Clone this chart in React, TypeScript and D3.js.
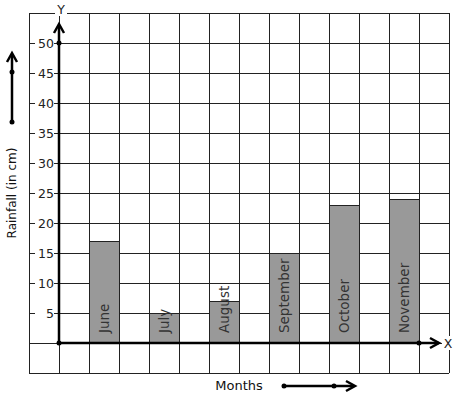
import React from "react";
import * as d3 from "d3";

const months = ["June", "July", "August", "September", "October", "November"];
const rainfall = [17, 5, 7, 15, 23, 24];
const yTickValues = [5, 10, 15, 20, 25, 30, 35, 40, 45, 50];

const W = 457, H = 399;
const FONT = "DejaVu Sans, sans-serif";

export default function App() {
  // grid columns are 30px wide, y axis sits on column line 0
  const col = d3.scaleLinear().domain([-1, 13]).range([29, 449]);
  const y = d3.scaleLinear().domain([-5, 55]).range([373, 13]);
  const x = d3.scaleBand<string>().domain(months).range([col(1), col(12)]).paddingInner(0.5).paddingOuter(0);

  const x0 = col(0), y0 = y(0);
  const gridCols = d3.range(-1, 14);
  const gridRows = d3.range(-5, 56, 5);

  return (
    <svg width={W} height={H} style={{ position: "absolute", left: 0, top: 0, background: "#fff" }} fontFamily={FONT}>
      {/* grid */}
      <g stroke="#222" strokeWidth={1} shapeRendering="crispEdges">
        {gridCols.map(c => (
          <line key={"c" + c} x1={col(c)} x2={col(c)} y1={y(55)} y2={y(-5)} />
        ))}
        {gridRows.map(r => (
          <line key={"r" + r} x1={col(-1)} x2={col(13)} y1={y(r)} y2={y(r)} />
        ))}
      </g>

      {/* bars */}
      {months.map((m, i) => (
        <g key={m}>
          <rect x={x(m)} y={y(rainfall[i])} width={x.bandwidth()} height={y0 - y(rainfall[i])}
            fill="#999" stroke="#222" strokeWidth={1} shapeRendering="crispEdges" />
          <text transform={`translate(${x(m)! + x.bandwidth() / 2},${y0 - 10}) rotate(-90)`}
            dominantBaseline="central" fontSize={13.5} fill="#333">{m}</text>
        </g>
      ))}

      {/* y tick labels */}
      {yTickValues.map(v => (
        <g key={v}>
          <rect x={35} y={y(v) - 6} width={19} height={12} fill="#fff" />
          <text x={54} y={y(v)} textAnchor="end" dominantBaseline="central" fontSize={12.5} fill="#222">{v}</text>
        </g>
      ))}

      {/* axes */}
      <g stroke="#000" strokeWidth={2.5} fill="none">
        <line x1={x0} x2={x0} y1={y0} y2={25} />
        <polyline points={`${x0 - 5},33 ${x0},24 ${x0 + 5},33`} />
        <line x1={x0} x2={439} y1={y0} y2={y0} />
        <polyline points={`430,${y0 - 5} 439,${y0} 430,${y0 + 5}`} />
      </g>
      <circle cx={x0} cy={y(50)} r={2.5} fill="#000" />
      <circle cx={x0} cy={y0} r={2.5} fill="#000" />
      <circle cx={col(12)} cy={y0} r={2.5} fill="#000" />

      {/* axis letters */}
      <rect x={55} y={3} width={12} height={13} fill="#fff" />
      <text x={61} y={14} textAnchor="middle" fontSize={12.5} fill="#222">Y</text>
      <rect x={442} y={336} width={12} height={14} fill="#fff" />
      <text x={448} y={y0} textAnchor="middle" dominantBaseline="central" fontSize={12.5} fill="#222">X</text>

      {/* y title with arrow */}
      <text transform={`translate(12,193) rotate(-90)`} textAnchor="middle" dominantBaseline="central"
        fontSize={12} fill="#111">Rainfall (in cm)</text>
      <g stroke="#000" strokeWidth={2.5} fill="none">
        <line x1={12} x2={12} y1={122} y2={54} />
        <polyline points="7,62 12,53 17,62" />
      </g>
      <circle cx={12} cy={72} r={2.5} fill="#000" />
      <circle cx={12} cy={122} r={2.5} fill="#000" />

      {/* x title with arrow */}
      <text x={239} y={385} textAnchor="middle" dominantBaseline="central" fontSize={13} fill="#111">Months</text>
      <g stroke="#000" strokeWidth={2.5} fill="none">
        <line x1={284} x2={353} y1={386} y2={386} />
        <polyline points="346,381 355,386 346,391" />
      </g>
      <circle cx={284} cy={386} r={2.5} fill="#000" />
      <circle cx={334} cy={386} r={2.5} fill="#000" />
    </svg>
  );
}
